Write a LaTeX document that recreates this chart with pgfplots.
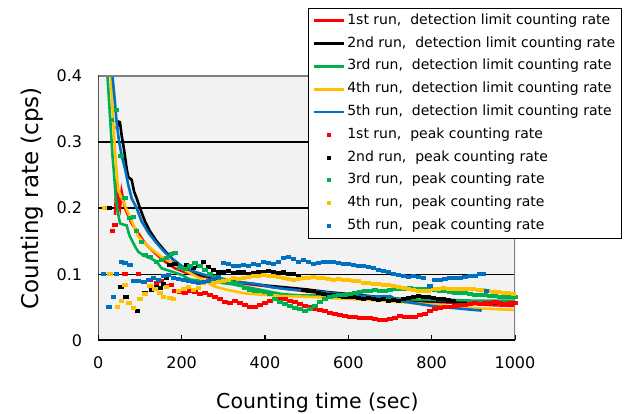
\documentclass[border=0pt]{standalone}
\usepackage{pgfplots}
\pgfplotsset{compat=1.18}
\usepackage{fontspec}
\setmainfont{DejaVu Sans}
\definecolor{cred}{HTML}{FF0000}
\definecolor{cgreen}{HTML}{00B050}
\definecolor{cyellow}{HTML}{FFC000}
\definecolor{cblue}{HTML}{0070C0}
\definecolor{plotbg}{HTML}{F2F2F2}
\definecolor{bordergray}{HTML}{808080}
\begin{document}
\begin{tikzpicture}
\useasboundingbox (0,0) rectangle (629pt,414pt);
\begin{axis}[
  at={(98.3pt,73.7pt)}, anchor=south west,
  scale only axis, width=416.7pt, height=264.3pt,
  xmin=0, xmax=1000, ymin=0, ymax=0.4,
  xtick={0,200,400,600,800,1000},
  ytick={0,0.1,0.2,0.3,0.4},
  yticklabels={0,0.1,0.2,0.3,0.4},
  xticklabels={0,200,400,600,800,1000},
  ymajorgrids, major grid style={black, line width=1.3pt},
  axis background/.style={fill=plotbg},
  axis line style={draw=none},
  tick align=inside, xtick pos=bottom, ytick pos=left,
  major tick length=5pt,
  x tick style={black, line width=1.3pt},
  y tick style={draw=none},
  /pgf/number format/assume math mode=true,
  ticklabel style={font=\fontsize{16}{18}\selectfont},
  xticklabel style={anchor=center, yshift=-22.5pt},
  yticklabel style={anchor=east, inner sep=0pt, xshift=-16pt},
  xlabel={Counting time (sec)},
  ylabel={Counting rate (cps)},
  xlabel style={font=\fontsize{20.5}{24}\selectfont, at={(axis description cs:0.526,-0.237)}, anchor=center},
  ylabel style={font=\fontsize{23}{26}\selectfont, at={(axis description cs:-0.158,0.537)}, anchor=center},
  legend style={at={(0.5033,1.2573)}, anchor=north west, draw=black, line width=1pt, fill=white,
    font=\fontsize{14}{16}\selectfont, inner xsep=4pt, inner ysep=1pt,
    nodes={text height=10pt, text depth=3pt, inner ysep=4.9pt, inner xsep=2pt},
    cells={anchor=west}, row sep=0pt},
  lineplot/.style={mark=none, line width=2.6pt,
    legend image code/.code={\draw[##1, line width=2.8pt] (0pt,0pt) -- (30pt,0pt);}},
  dots/.style={only marks, mark=-, mark size=2.8pt, mark options={line width=4pt, solid},
    legend image code/.code={\draw[##1, mark size=2.2pt] plot coordinates {(15pt,0pt)};}},
]
% detection limit counting rate (lines)
\addplot[cred, lineplot] table {
t v
40 0.19
44 0.24
48 0.21
52 0.20
56 0.225
64 0.20
72 0.188
80 0.177
96 0.162
112 0.147
136 0.132
160 0.119
184 0.109
208 0.103
240 0.098
280 0.093
320 0.089
360 0.085
400 0.082
450 0.078
500 0.074
550 0.070
600 0.067
650 0.064
700 0.062
750 0.060
800 0.058
850 0.057
900 0.055
950 0.053
1000 0.052
};
\addplot[black, lineplot] table {
t v
44 0.32
48 0.331
52 0.33
56 0.31
62 0.288
68 0.26
72 0.247
80 0.243
86 0.225
92 0.215
100 0.20
112 0.18
124 0.165
140 0.15
160 0.135
180 0.122
200 0.112
220 0.105
240 0.100
260 0.097
300 0.092
350 0.087
400 0.083
450 0.080
500 0.077
550 0.073
600 0.070
650 0.067
700 0.064
750 0.061
800 0.059
850 0.058
900 0.057
950 0.056
1000 0.055
};
\addplot[cgreen, lineplot] table {
t v
22 0.40
26 0.36
30 0.32
34 0.28
38 0.25
42 0.215
46 0.197
52 0.177
60 0.175
68 0.174
74 0.160
80 0.152
90 0.140
96 0.134
110 0.128
120 0.126
140 0.119
152 0.109
176 0.104
200 0.099
220 0.092
250 0.090
280 0.088
320 0.085
360 0.080
400 0.075
440 0.070
480 0.068
520 0.068
560 0.067
600 0.066
650 0.064
700 0.063
750 0.062
800 0.061
850 0.061
900 0.060
950 0.060
1000 0.060
};
\addplot[cyellow, lineplot] table {
t v
26 0.42
30 0.40
36 0.33
42 0.27
48 0.227
60 0.21
72 0.192
84 0.175
96 0.157
116 0.144
136 0.134
152 0.126
184 0.116
208 0.106
240 0.095
280 0.081
312 0.076
352 0.071
392 0.069
440 0.067
500 0.066
560 0.064
620 0.062
680 0.060
740 0.057
800 0.054
860 0.051
920 0.048
1000 0.046
};
\addplot[cblue, lineplot] table {
t v
28 0.42
34 0.40
40 0.36
44 0.33
50 0.30
56 0.28
64 0.26
72 0.235
80 0.215
92 0.20
104 0.18
120 0.163
140 0.147
160 0.133
180 0.122
200 0.112
230 0.104
260 0.098
300 0.093
340 0.088
380 0.085
420 0.080
460 0.077
500 0.075
540 0.073
580 0.070
620 0.068
660 0.066
700 0.067
720 0.060
760 0.056
800 0.052
850 0.049
900 0.046
920 0.045
};
% peak counting rate (dots)
\addplot[cred, dots] table {
t v
34 0.166
40 0.175
64 0.100
96 0.100
110 0.088
124 0.092
140 0.086
152 0.090
164 0.082
176 0.084
184 0.075
196 0.073
208 0.072
220 0.075
232 0.073
244 0.070
256 0.072
268 0.068
280 0.066
292 0.063
304 0.058
316 0.056
328 0.060
340 0.057
352 0.054
364 0.051
376 0.050
388 0.054
400 0.057
412 0.060
424 0.062
436 0.063
448 0.062
460 0.060
472 0.058
484 0.055
496 0.052
508 0.050
520 0.048
532 0.046
544 0.044
556 0.042
568 0.040
580 0.038
592 0.037
604 0.036
616 0.035
628 0.034
640 0.033
652 0.034
664 0.032
676 0.031
688 0.030
700 0.032
712 0.034
724 0.037
736 0.036
748 0.035
760 0.036
772 0.038
784 0.040
796 0.044
808 0.047
820 0.049
832 0.051
844 0.050
856 0.052
868 0.053
880 0.054
892 0.055
904 0.056
916 0.055
928 0.057
940 0.056
952 0.058
964 0.056
976 0.055
988 0.057
1000 0.056
};
\addplot[black, dots] table {
t v
25 0.200
54 0.080
66 0.066
94 0.044
112 0.072
128 0.076
140 0.080
148 0.079
156 0.085
164 0.094
172 0.114
184 0.115
196 0.110
212 0.114
228 0.110
240 0.113
252 0.119
264 0.111
276 0.106
288 0.104
300 0.103
312 0.105
324 0.102
336 0.104
348 0.103
360 0.101
372 0.102
384 0.104
396 0.103
408 0.105
420 0.104
432 0.102
444 0.103
456 0.101
468 0.100
480 0.098
492 0.076
504 0.075
516 0.074
528 0.071
540 0.070
552 0.068
564 0.068
576 0.067
588 0.066
600 0.065
612 0.066
624 0.064
636 0.063
648 0.064
660 0.062
672 0.061
684 0.062
696 0.060
708 0.061
720 0.060
732 0.062
744 0.064
756 0.066
768 0.067
780 0.066
792 0.065
804 0.064
816 0.063
828 0.062
840 0.061
852 0.060
};
\addplot[cgreen, dots] table {
t v
32 0.333
44 0.349
54 0.279
64 0.216
76 0.185
84 0.187
92 0.166
104 0.149
112 0.129
124 0.126
140 0.119
152 0.121
164 0.124
176 0.130
184 0.132
196 0.110
208 0.108
220 0.112
232 0.117
244 0.113
256 0.106
268 0.100
280 0.096
292 0.093
304 0.091
316 0.088
328 0.086
340 0.083
352 0.079
364 0.076
376 0.075
388 0.074
400 0.073
412 0.070
424 0.062
436 0.058
448 0.055
460 0.052
472 0.049
484 0.047
496 0.045
508 0.048
520 0.052
532 0.058
544 0.063
556 0.066
568 0.067
580 0.068
592 0.069
604 0.070
616 0.071
628 0.073
640 0.074
652 0.075
664 0.076
676 0.075
688 0.074
700 0.076
712 0.077
724 0.078
736 0.077
748 0.079
760 0.078
772 0.077
784 0.078
796 0.077
808 0.076
820 0.075
832 0.074
844 0.073
856 0.072
868 0.072
880 0.071
892 0.070
904 0.069
916 0.069
928 0.068
940 0.067
952 0.067
964 0.066
976 0.066
988 0.065
1000 0.065
};
\addplot[cyellow, dots] table {
t v
15 0.200
28 0.100
46 0.050
56 0.060
64 0.083
74 0.057
84 0.049
100 0.062
112 0.070
124 0.082
136 0.078
148 0.072
156 0.066
164 0.081
172 0.064
180 0.062
192 0.074
204 0.078
216 0.080
228 0.076
240 0.079
252 0.086
264 0.089
276 0.086
288 0.088
300 0.090
312 0.092
324 0.094
336 0.093
348 0.095
360 0.096
372 0.098
384 0.097
396 0.099
408 0.098
420 0.097
432 0.096
444 0.095
456 0.093
468 0.092
480 0.093
492 0.094
504 0.095
516 0.096
528 0.095
540 0.094
552 0.093
564 0.092
576 0.093
588 0.091
600 0.091
612 0.090
624 0.089
636 0.087
648 0.086
660 0.085
672 0.085
684 0.084
696 0.083
708 0.082
720 0.080
732 0.079
744 0.077
756 0.076
768 0.075
780 0.074
792 0.075
804 0.077
816 0.078
828 0.079
840 0.078
852 0.078
864 0.077
876 0.078
888 0.077
900 0.077
912 0.076
924 0.076
936 0.074
948 0.073
960 0.073
972 0.072
984 0.071
996 0.070
};
\addplot[cblue, dots] table {
t v
12 0.100
26 0.050
36 0.066
44 0.100
56 0.119
64 0.117
76 0.114
84 0.089
96 0.090
108 0.088
120 0.091
132 0.095
144 0.092
156 0.097
168 0.099
180 0.095
192 0.093
204 0.091
216 0.089
228 0.088
240 0.087
252 0.088
264 0.090
276 0.093
288 0.096
300 0.117
312 0.115
324 0.113
336 0.112
348 0.114
360 0.113
372 0.115
384 0.114
396 0.118
408 0.117
420 0.116
432 0.119
444 0.124
456 0.126
468 0.123
480 0.118
492 0.121
504 0.119
516 0.116
528 0.117
540 0.118
552 0.119
564 0.118
576 0.117
588 0.116
600 0.115
612 0.114
624 0.113
636 0.112
648 0.111
660 0.109
672 0.107
684 0.105
696 0.103
708 0.101
720 0.099
732 0.097
744 0.096
756 0.097
768 0.096
780 0.094
796 0.082
808 0.091
820 0.092
832 0.093
844 0.094
856 0.094
868 0.095
880 0.096
892 0.097
904 0.098
916 0.100
924 0.101
932 0.075
};
\legend{{1st run,\ \ detection limit counting rate},
{2nd run,\ \ detection limit counting rate},
{3rd run,\ \ detection limit counting rate},
{4th run,\ \ detection limit counting rate},
{5th run,\ \ detection limit counting rate},
{1st run,\ \ peak counting rate},
{2nd run,\ \ peak counting rate},
{3rd run,\ \ peak counting rate},
{4th run,\ \ peak counting rate},
{5th run,\ \ peak counting rate}}
\draw[bordergray, line width=1.5pt] (rel axis cs:0,1) -- (rel axis cs:1,1) -- (rel axis cs:1,0);
\draw[black, line width=1.8pt] (rel axis cs:0,1) -- (rel axis cs:0,0) -- (rel axis cs:1,0);
\end{axis}
\end{tikzpicture}
\end{document}
